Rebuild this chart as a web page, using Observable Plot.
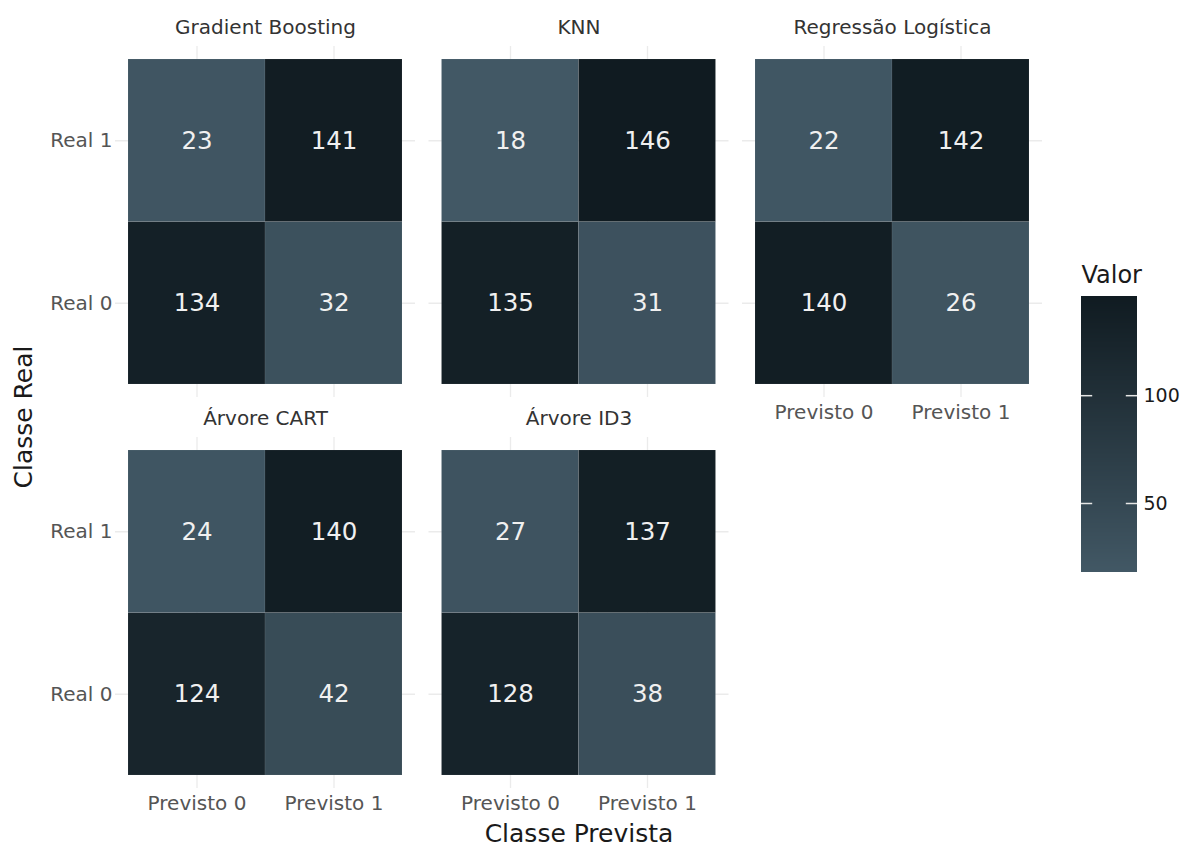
<!DOCTYPE html>
<html>
<head>
<meta charset="utf-8">
<script src="https://cdn.jsdelivr.net/npm/d3@7"></script>
<script src="https://cdn.jsdelivr.net/npm/@observablehq/plot@0.6"></script>
<style>
  html, body { margin: 0; padding: 0; background: white; }
  #wrap { position: relative; width: 1181px; height: 847px; font-family: "DejaVu Sans", sans-serif; overflow: hidden; }
  .abs { position: absolute; }
  .title { white-space: nowrap; color: #1a1a1a; line-height: 1; }
</style>
</head>
<body>
<div id="wrap"></div>
<script>
// ---- Data ----
const models = ["Gradient Boosting", "KNN", "Regressão Logística", "Árvore CART", "Árvore ID3"];
const predicted = ["Previsto 0", "Previsto 1"];
const actual = ["Real 0", "Real 1"];
// values[model] = [[Real0-Prev0, Real0-Prev1], [Real1-Prev0, Real1-Prev1]]
const gbValues   = [[134, 32], [23, 141]];
const knnValues  = [[135, 31], [18, 146]];
const rlValues   = [[140, 26], [22, 142]];
const cartValues = [[124, 42], [24, 140]];
const id3Values  = [[128, 38], [27, 137]];
const modelValues = [gbValues, knnValues, rlValues, cartValues, id3Values];
const legendTicks = [50, 100];
const legendTitle = "Valor";
const xTitle = "Classe Prevista";
const yTitle = "Classe Real";

const cells = [];
const titles = [];
models.forEach((m, i) => {
  const col = i % 3, row = Math.floor(i / 3);
  titles.push({model: m, col, row});
  actual.forEach((a, ai) => predicted.forEach((p, pi) => {
    cells.push({model: m, col, row, actual: a, predicted: p, value: modelValues[i][ai][pi]});
  }));
});

const allVals = cells.map(d => d.value);
const vmin = d3.min(allVals), vmax = d3.max(allVals);
const lightC = "#425865", darkC = "#101b21";
const colorOpts = {type: "linear", domain: [vmin, vmax], range: [lightC, darkC], interpolate: "lab"};

const wrap = document.getElementById("wrap");

const main = Plot.plot({
  width: 1060, height: 847,
  marginLeft: 115, marginRight: 18, marginTop: 46, marginBottom: 59,
  style: {fontFamily: "DejaVu Sans", fontSize: "20px", background: "transparent", overflow: "visible"},
  fx: {domain: [0, 1, 2], paddingInner: 13.5 / 313.5, paddingOuter: 0, axis: null, round: false},
  fy: {domain: [0, 1], paddingInner: 40 / 391, paddingOuter: 0, axis: null, round: false},
  x: {domain: predicted, padding: 0, inset: 13, round: false},
  y: {domain: ["Real 1", "Real 0"], padding: 0, inset: 13, round: false},
  color: colorOpts,
  marks: [
    Plot.gridX({stroke: "#ebebeb", strokeOpacity: 1, strokeWidth: 1.3}),
    Plot.gridY({stroke: "#ebebeb", strokeOpacity: 1, strokeWidth: 1.3}),
    Plot.cell(cells, {x: "predicted", y: "actual", fx: "col", fy: "row", fill: "value",
      stroke: "#ffffff", strokeOpacity: 0.12, strokeWidth: 0.6}),
    Plot.text(cells, {x: "predicted", y: "actual", fx: "col", fy: "row", text: d => String(d.value),
      fill: "#f0f0f0", fontSize: 24.5}),
    Plot.text(titles, {fx: "col", fy: "row", text: "model", frameAnchor: "top", dy: -27,
      fill: "#333", fontSize: 20}),
    Plot.axisX({facetAnchor: "bottom-empty", tickSize: 0, tickPadding: 7, fontSize: 20, color: "#555", label: null}),
    Plot.axisY({facetAnchor: "left", tickSize: 0, tickPadding: 3, fontSize: 20, color: "#555", label: null})
  ]
});
main.classList.add("abs");
main.style.left = "0px"; main.style.top = "0px";
wrap.appendChild(main);

// Colorbar
const slices = d3.range(vmin, vmax, 0.5).map(v => ({y1: v, y2: Math.min(v + 0.5, vmax), v: v + 0.25}));
const bar = Plot.plot({
  width: 121, height: 847,
  marginLeft: 21, marginRight: 44, marginTop: 296, marginBottom: 275,
  style: {fontFamily: "DejaVu Sans", fontSize: "19px", background: "transparent", overflow: "visible"},
  x: {domain: [0, 1], axis: null},
  y: {domain: [vmin, vmax]},
  color: colorOpts,
  marks: [
    Plot.rect(slices, {x1: 0, x2: 1, y1: "y1", y2: "y2", fill: "v", shapeRendering: "crispEdges"}),
    Plot.ruleY(legendTicks, {x1: 0, x2: 0.2, stroke: "#e6e6e6", strokeWidth: 1.5}),
    Plot.ruleY(legendTicks, {x1: 0.8, x2: 1, stroke: "#e6e6e6", strokeWidth: 1.5}),
    Plot.axisY(legendTicks, {anchor: "right", tickSize: 0, tickPadding: 6, fontSize: 19, color: "#1a1a1a", label: null}),
    Plot.text([legendTitle], {frameAnchor: "top-left", dx: 0, dy: -31, fontSize: 24, fill: "#1a1a1a", textAnchor: "start"})
  ]
});
bar.classList.add("abs");
bar.style.left = "1060px"; bar.style.top = "0px";
wrap.appendChild(bar);

// Axis titles
const xt = document.createElement("div");
xt.className = "abs title";
xt.textContent = xTitle;
xt.style.fontSize = "25px";
xt.style.left = "579px"; xt.style.top = "833px";
xt.style.transform = "translate(-50%, -50%)";
wrap.appendChild(xt);

const yt = document.createElement("div");
yt.className = "abs title";
yt.textContent = yTitle;
yt.style.fontSize = "25px";
yt.style.left = "23px"; yt.style.top = "417px";
yt.style.transform = "translate(-50%, -50%) rotate(-90deg)";
wrap.appendChild(yt);
</script>
</body>
</html>
